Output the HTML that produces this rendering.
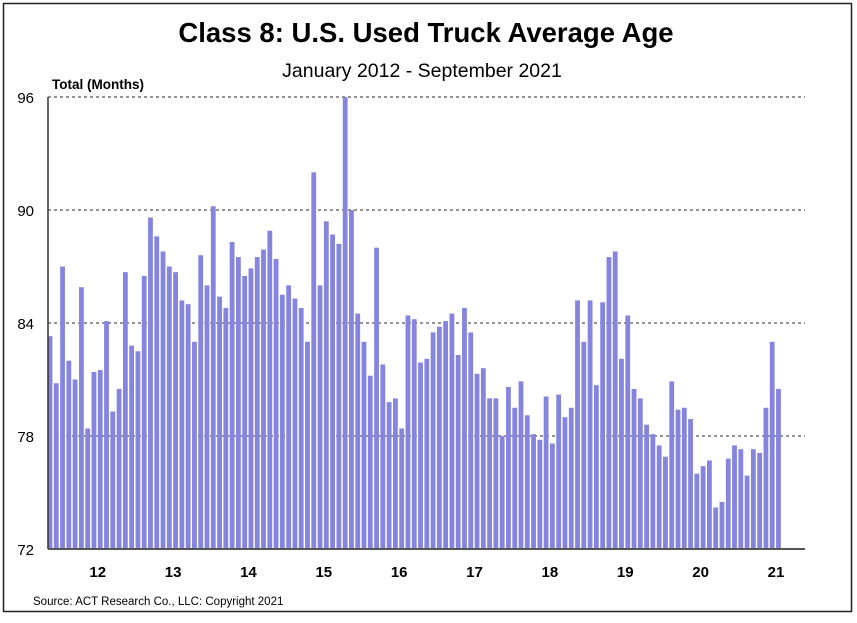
<!DOCTYPE html>
<html><head><meta charset="utf-8"><style>
body{margin:0;background:#fff;width:857px;height:618px;overflow:hidden;font-family:"Liberation Sans",Arial,sans-serif}
</style></head><body>
<svg id="chart" width="857" height="618" xmlns="http://www.w3.org/2000/svg">
<rect x="3.5" y="3.5" width="848" height="608" fill="#fff" stroke="#222" stroke-width="1.5"/>
<text x="426" y="42" text-anchor="middle" font-size="27.5" font-weight="bold" fill="#000">Class 8: U.S. Used Truck Average Age</text>
<text x="422" y="77" text-anchor="middle" font-size="19.5" fill="#000">January 2012 - September 2021</text>
<text x="52" y="89" font-size="13.5" font-weight="bold" fill="#000">Total (Months)</text>
<text x="33" y="605" font-size="11.5" fill="#000">Source: ACT Research Co., LLC: Copyright 2021</text>
<g id="grid"></g><g id="bars"></g><g id="axes"></g>
</svg>
<script>
const values=[83.3,80.8,87.0,82.0,81.0,85.9,78.4,81.4,81.5,84.1,79.3,80.5,
86.7,82.8,82.5,86.5,89.6,88.6,87.8,87.0,86.7,85.2,85.0,83.0,
87.6,86.0,90.2,85.4,84.8,88.3,87.5,86.5,86.9,87.5,87.9,88.9,
87.4,85.5,86.0,85.3,84.8,83.0,92.0,86.0,89.4,88.7,88.2,96.0,
90.0,84.5,83.0,81.2,88.0,81.8,79.8,80.0,78.4,84.4,84.2,81.9,
82.1,83.5,83.8,84.1,84.5,82.3,84.8,83.5,81.3,81.6,80.0,80.0,
78.0,80.6,79.5,80.9,79.1,78.1,77.8,80.1,77.6,80.2,79.0,79.5,
85.2,83.0,85.2,80.7,85.1,87.5,87.8,82.1,84.4,80.5,80.0,78.6,
78.1,77.5,76.9,80.9,79.4,79.5,78.9,76.0,76.4,76.7,74.2,74.5,
76.8,77.5,77.3,75.9,77.3,77.1,79.5,83.0,80.5];
const yTicks=[72,78,84,90,96];
const yearLabels=["12","13","14","15","16","17","18","19","20","21"];
const NS="http://www.w3.org/2000/svg";
const x0=48,x1=805,yTop=97,yBot=549,vMin=72,vMax=96,step=6.28;
function y(v){return yBot-(v-vMin)/(vMax-vMin)*(yBot-yTop);}
function xc(i){return 50+i*step;}
function mk(t,a,p){const e=document.createElementNS(NS,t);for(const k in a)e.setAttribute(k,a[k]);p.appendChild(e);return e;}
const grid=document.getElementById('grid'),bars=document.getElementById('bars'),axes=document.getElementById('axes');
yTicks.forEach(v=>{
 if(v>vMin){const l=mk('line',{x1:x0,x2:x1,y1:y(v),y2:y(v),stroke:'#555','stroke-width':1.2,'stroke-dasharray':'3,3'},grid);
 
 }
 const t=mk('text',{x:34,y:y(v)+6,'text-anchor':'end','font-size':15,fill:'#000'},axes);t.textContent=v;
 
 
});
values.forEach((v,i)=>{
 const r=mk('rect',{x:xc(i)-2.4,y:y(v),width:4.8,height:yBot-y(v),fill:'#8585df'},bars);
 
 
});
const ya=mk('line',{x1:x0,x2:x0,y1:yTop,y2:yBot,stroke:'#333','stroke-width':1.5},axes);


const xa=mk('line',{x1:x0,x2:x1,y1:yBot,y2:yBot,stroke:'#555','stroke-width':2},axes);


yearLabels.forEach((s,k)=>{
 const t=mk('text',{x:xc(k*12+7.6),y:577,'text-anchor':'middle','font-size':15,'font-weight':'bold',fill:'#000'},axes);t.textContent=s;
 
 
});
</script>
</body></html>
